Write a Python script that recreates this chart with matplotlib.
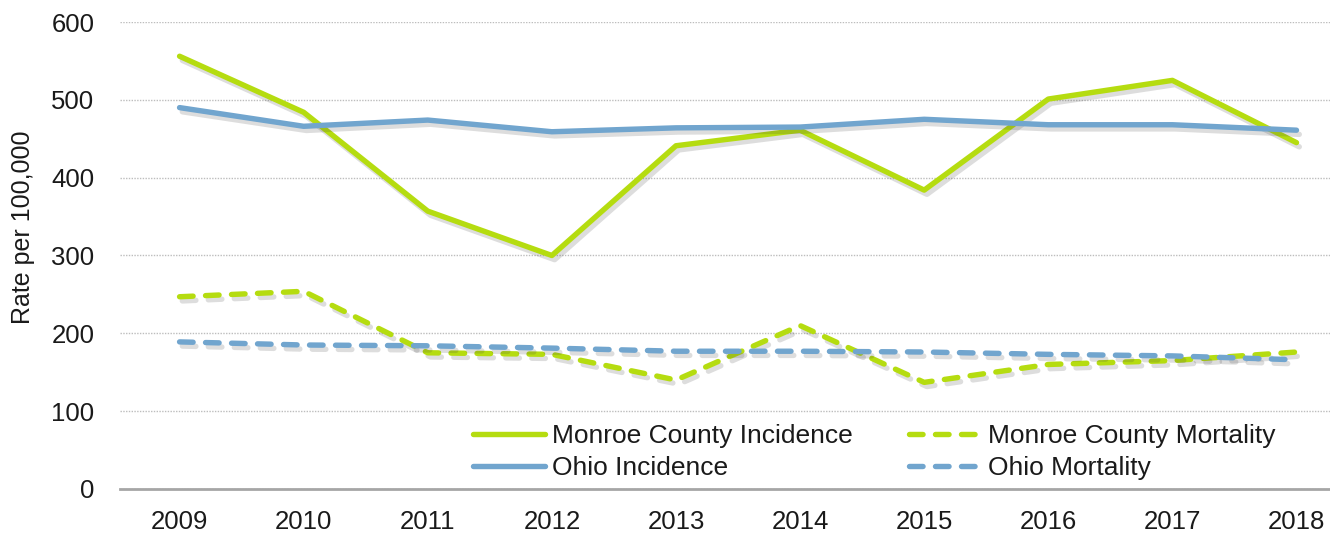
import numpy as np
import matplotlib.pyplot as plt
import matplotlib.patheffects as pe
from matplotlib.lines import Line2D

# Data
years = ['2009', '2010', '2011', '2012', '2013', '2014', '2015', '2016', '2017', '2018']
monroe_incidence = [556, 484, 357, 300, 441, 461, 384, 501, 525, 445]
ohio_incidence = [490, 466, 474, 459, 464, 465, 475, 468, 468, 461]
monroe_mortality = [247, 254, 175, 173, 140, 210, 137, 160, 165, 176]
ohio_mortality = [189, 185, 184, 181, 177, 177, 176, 173, 171, 166]

green = '#B5DC10'
blue = '#71A5CE'

plt.rcParams['font.family'] = ['Liberation Sans', 'DejaVu Sans']

fig = plt.figure(figsize=(13.3, 5.37), dpi=100)
ax = fig.add_axes([120/1330, 48/537, 1210/1330, 467/537])

x = np.arange(len(years))
shadow = [pe.SimpleLineShadow(offset=(2, -3), alpha=0.18, shadow_color='#444444'), pe.Normal()]
dashes = (0, (2.5, 2.3))

series = [
    (monroe_incidence, green, '-', 'Monroe County Incidence'),
    (ohio_incidence, blue, '-', 'Ohio Incidence'),
    (monroe_mortality, green, dashes, 'Monroe County Mortality'),
    (ohio_mortality, blue, dashes, 'Ohio Mortality'),
]

handles = []
for vals, col, ls, lab in series:
    ax.plot(x, vals, color=col, lw=3.9, ls=ls, solid_capstyle='round',
            dash_capstyle='round', path_effects=shadow)
    # legend handle without the shadow
    handles.append(Line2D([], [], color=col, lw=3.9, ls=ls, solid_capstyle='round',
                          dash_capstyle='round', label=lab))

ax.set_xlim(-0.48, 9.27)
ax.set_ylim(0, 600)
ax.set_yticks(range(0, 601, 100))
ax.set_xticks(x)
ax.set_xticklabels(years)
ax.grid(axis='y', color='#BDBDBD', ls=(0, (1, 1)), lw=1)
ax.set_axisbelow(True)
for s in ['top', 'right', 'left']:
    ax.spines[s].set_visible(False)
ax.spines['bottom'].set_color('#A6A6A6')
ax.spines['bottom'].set_linewidth(2)
ax.tick_params(axis='both', length=0, labelsize=18.5, colors='#1a1a1a')
ax.tick_params(axis='x', pad=15)
ax.tick_params(axis='y', pad=18.5)
ax.set_ylabel('Rate per 100,000', fontsize=18, color='#1a1a1a')
ax.yaxis.set_label_coords(-0.070, 0.561)

leg = ax.legend(handles=handles, ncol=2, loc='upper left',
                bbox_to_anchor=(0.281, 0.167), frameon=False, fontsize=19,
                borderpad=0, handlelength=2.73, handletextpad=0.27,
                columnspacing=2.1, labelspacing=0.29)
for t in leg.get_texts():
    t.set_color('#1a1a1a')

fig.savefig('out.png', dpi=100)
